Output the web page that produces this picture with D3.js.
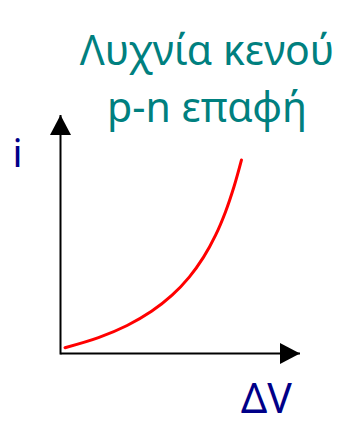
<!DOCTYPE html>
<html>
<head>
<meta charset="utf-8">
<script src="https://cdn.jsdelivr.net/npm/d3@7"></script>
<style>
  html, body { margin: 0; padding: 0; background: #fff; }
  svg { display: block; }
  text { font-family: "Noto Sans", "Open Sans", sans-serif; }
</style>
</head>
<body>
<div id="chart"></div>
<script>
// Characteristic curve of a p-n junction diode: current i against voltage ΔV
const voltage = [1.87, 15.78, 27.70, 37.85, 46.39, 53.53, 59.48, 64.44, 68.59, 72.13, 75.26];
const current = [2.42, 6.63, 11.70, 17.61, 24.35, 31.90, 40.22, 49.29, 59.09, 69.60, 80.83];
const titleLines = ["Λυχνία κενού", "p-n επαφή"];
const xLabel = "ΔV";
const yLabel = "i";

const W = 345, H = 425;
const origin = { x: 60.5, y: 353.5 };

const svg = d3.select("#chart").append("svg")
  .attr("width", W).attr("height", H);

const x = d3.scaleLinear().domain([0, 100]).range([origin.x, 301]);
const y = d3.scaleLinear().domain([0, 100]).range([origin.y, 114]);

// arrowhead for both axes
svg.append("defs").append("marker")
  .attr("id", "arrow")
  .attr("viewBox", "0 0 20 21")
  .attr("refX", 20).attr("refY", 10.5)
  .attr("markerWidth", 20).attr("markerHeight", 21)
  .attr("markerUnits", "userSpaceOnUse")
  .attr("orient", "auto")
  .append("path")
  .attr("d", "M0,0 L20,10.5 L0,21 Z")
  .attr("fill", "#000");

// axes
svg.append("line")
  .attr("x1", x(0)).attr("y1", y(0))
  .attr("x2", x(100) - 1).attr("y2", y(0))
  .attr("stroke", "#000").attr("stroke-width", 2)
  .attr("marker-end", "url(#arrow)");
svg.append("line")
  .attr("x1", x(0)).attr("y1", y(0) + 1)
  .attr("x2", x(0)).attr("y2", y(100) + 1)
  .attr("stroke", "#000").attr("stroke-width", 2)
  .attr("marker-end", "url(#arrow)");

// curve
const pts = voltage.map((v, i) => [v, current[i]]);
const line = d3.line()
  .x(d => x(d[0]))
  .y(d => y(d[1]))
  .curve(d3.curveCatmullRom.alpha(0.5));
svg.append("path")
  .datum(pts)
  .attr("d", line)
  .attr("fill", "none")
  .attr("stroke", "#ff0000")
  .attr("stroke-width", 3)
  .attr("stroke-linecap", "round");

// title
const title = svg.append("text")
  .attr("text-anchor", "middle")
  .attr("fill", "#00807f")
  .attr("font-size", 41);
title.selectAll("tspan")
  .data(titleLines)
  .join("tspan")
  .attr("x", 207)
  .attr("y", (d, i) => 65 + i * 57)
  .text(d => d);

// axis labels
svg.append("text")
  .attr("x", 17.5).attr("y", 167)
  .attr("text-anchor", "middle")
  .attr("fill", "#000088")
  .attr("font-size", 39)
  .text(yLabel);
svg.append("text")
  .attr("x", 266.5).attr("y", 413)
  .attr("text-anchor", "middle")
  .attr("fill", "#000088")
  .attr("font-size", 41)
  .text(xLabel);
</script>
</body>
</html>
